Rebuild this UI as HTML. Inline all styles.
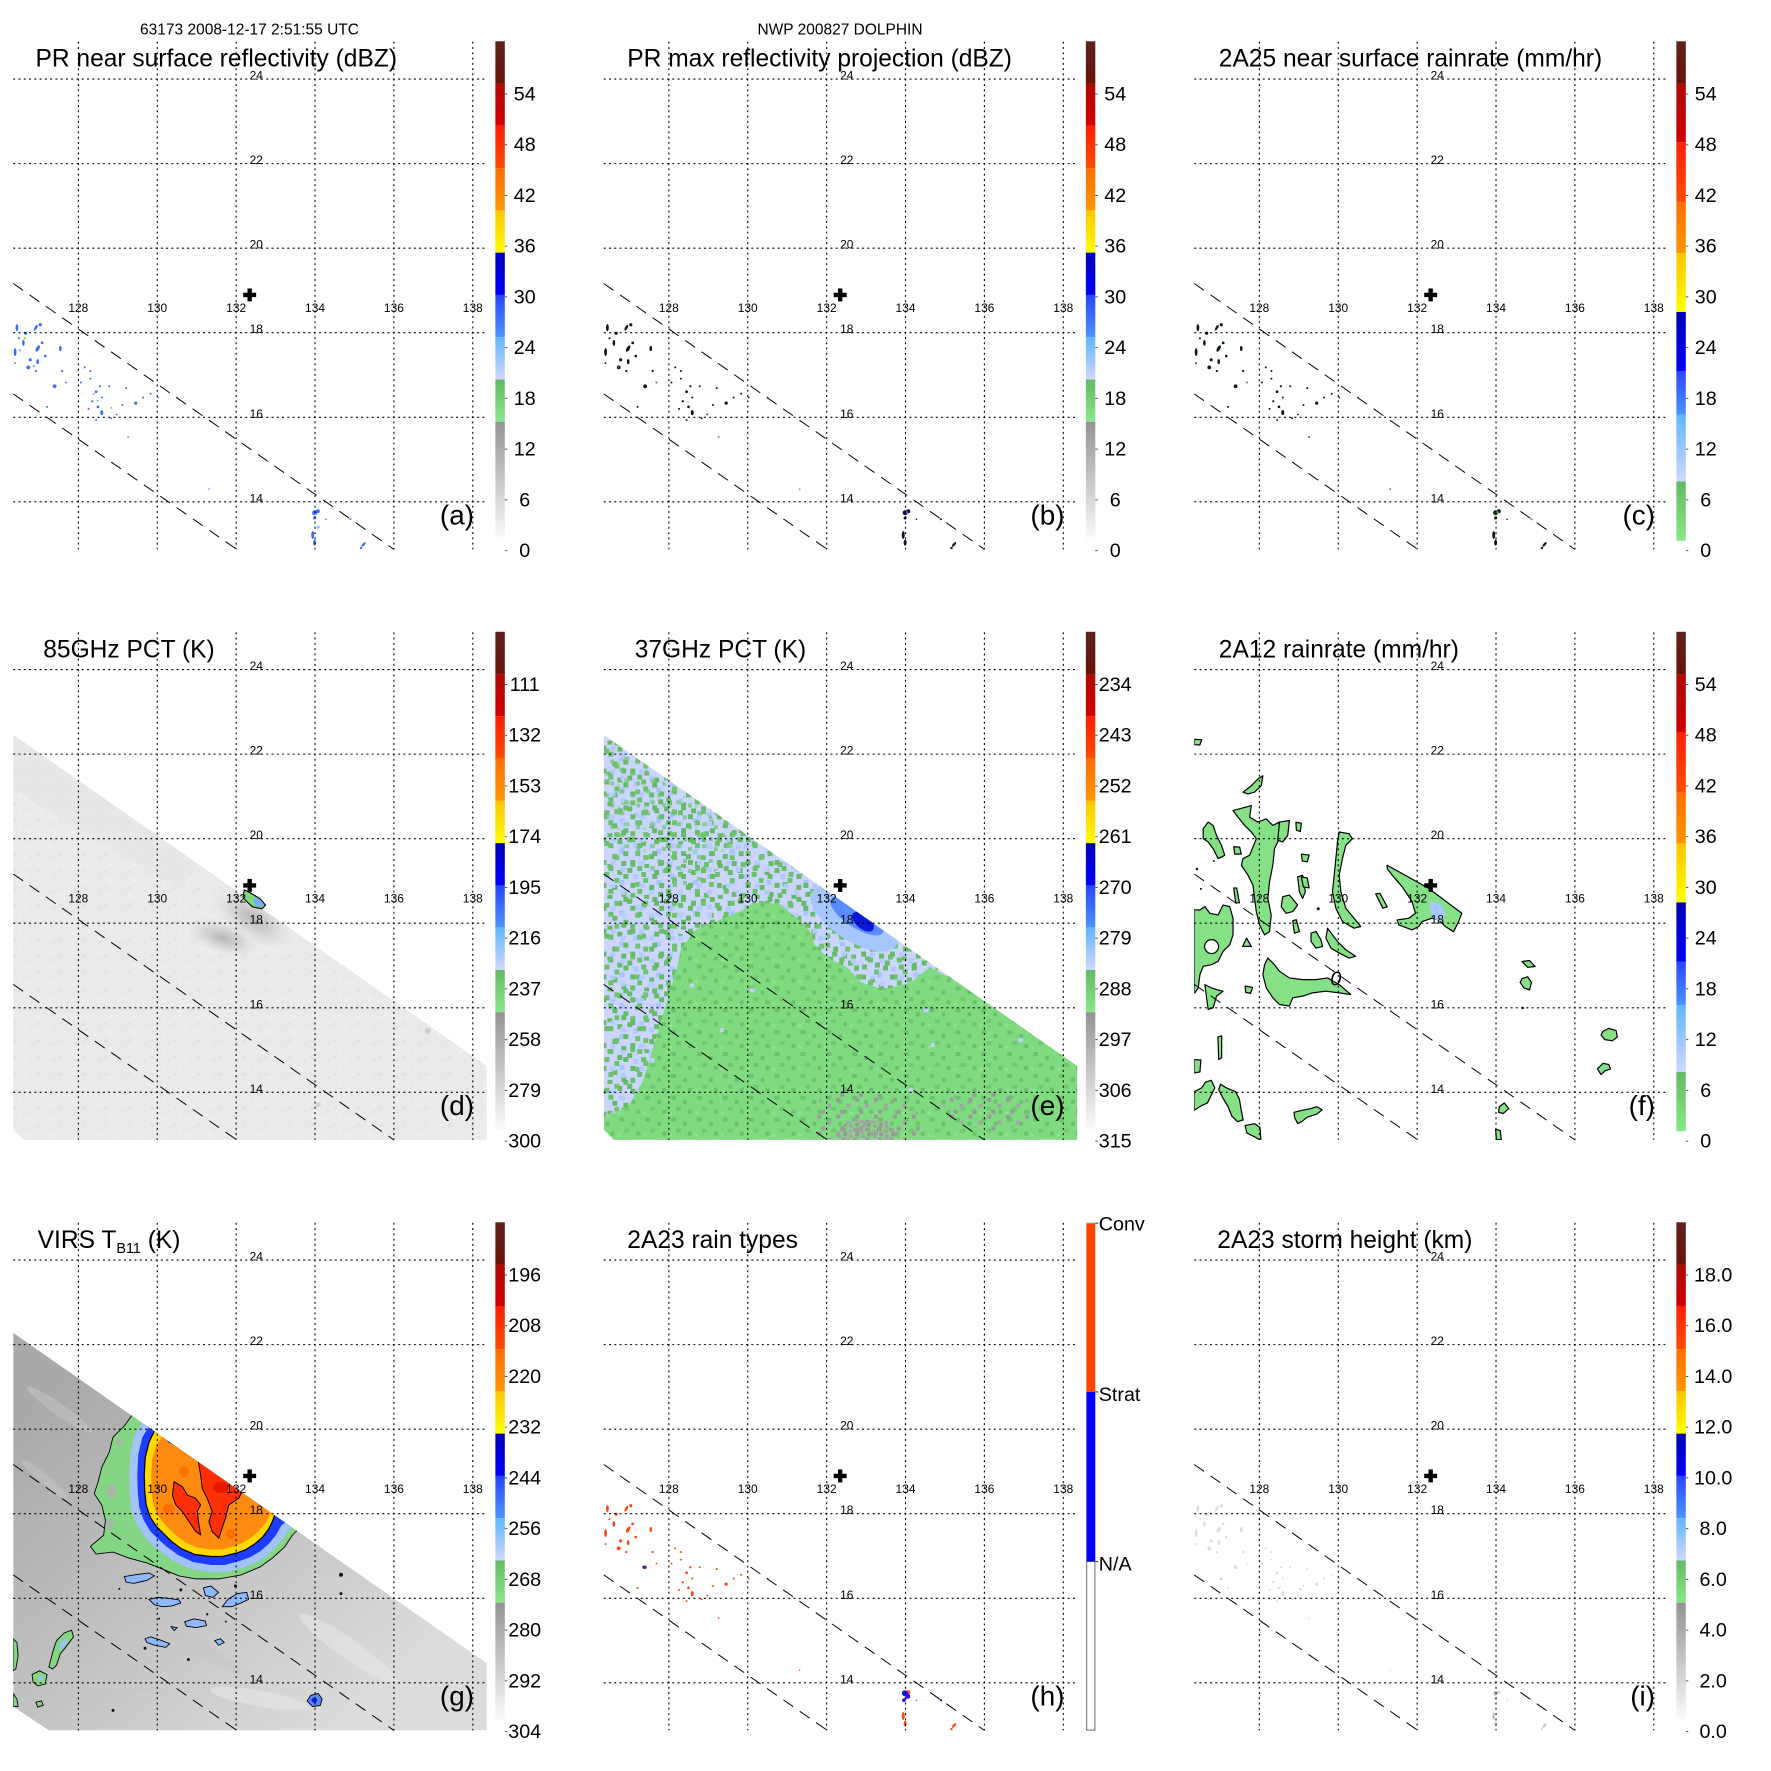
<!DOCTYPE html>
<html><head><meta charset="utf-8"><style>
html,body{margin:0;padding:0;background:#fff}
svg{display:block}
text{font-family:"Liberation Sans",Arial,Helvetica,sans-serif;fill:#000}
.tt{font-size:24.7px}
.sm{font-size:12px}
.cb{font-size:19.8px}
.pl{font-size:28px}
.hd{font-size:15.5px}
</style></head><body>
<svg width="1771" height="1771" viewBox="0 0 1771 1771" xmlns="http://www.w3.org/2000/svg">
<defs>
<clipPath id="mc" clipPathUnits="userSpaceOnUse"><rect x="13.3" y="42" width="476.1" height="510.3"/></clipPath>
<clipPath id="swD" clipPathUnits="userSpaceOnUse"><polygon points="13.3,145 489.4,478 489.4,552.3 23.5,552.3 13.3,542"/></clipPath>
<clipPath id="swG" clipPathUnits="userSpaceOnUse"><polygon points="13.3,152.7 489.4,484.8 489.4,552.3 49.2,552.3 13.3,528.4"/></clipPath>
<linearGradient id="gBr" x1="0" y1="0" x2="0" y2="1"><stop offset="0" stop-color="#5e221d"/><stop offset="1" stop-color="#6a1206"/></linearGradient>
<linearGradient id="gDr" x1="0" y1="0" x2="0" y2="1"><stop offset="0" stop-color="#ac0a00"/><stop offset="1" stop-color="#d30000"/></linearGradient>
<linearGradient id="gRd" x1="0" y1="0" x2="0" y2="1"><stop offset="0" stop-color="#ff1e00"/><stop offset="1" stop-color="#ff4c00"/></linearGradient>
<linearGradient id="gOr" x1="0" y1="0" x2="0" y2="1"><stop offset="0" stop-color="#ff6e00"/><stop offset="1" stop-color="#ff9600"/></linearGradient>
<linearGradient id="gYe" x1="0" y1="0" x2="0" y2="1"><stop offset="0" stop-color="#ffc400"/><stop offset="1" stop-color="#ffff00"/></linearGradient>
<linearGradient id="gBl" x1="0" y1="0" x2="0" y2="1"><stop offset="0" stop-color="#0000b4"/><stop offset="1" stop-color="#0000ff"/></linearGradient>
<linearGradient id="gMb" x1="0" y1="0" x2="0" y2="1"><stop offset="0" stop-color="#2a44ff"/><stop offset="1" stop-color="#4c94ff"/></linearGradient>
<linearGradient id="gLb" x1="0" y1="0" x2="0" y2="1"><stop offset="0" stop-color="#60b6ff"/><stop offset="1" stop-color="#d0d8ff"/></linearGradient>
<linearGradient id="gGn" x1="0" y1="0" x2="0" y2="1"><stop offset="0" stop-color="#66b866"/><stop offset="1" stop-color="#8ae68a"/></linearGradient>
<linearGradient id="gGy" x1="0" y1="0" x2="0" y2="1"><stop offset="0" stop-color="#939393"/><stop offset="1" stop-color="#fcfcfc"/></linearGradient>
<linearGradient id="gV" gradientUnits="userSpaceOnUse" x1="40" y1="220" x2="330" y2="560"><stop offset="0" stop-color="#a9a9a9"/><stop offset="0.45" stop-color="#bfbfbf"/><stop offset="1" stop-color="#dcdcdc"/></linearGradient>
<radialGradient id="rgD"><stop offset="0" stop-color="#adadad" stop-opacity="0.85"/><stop offset="0.5" stop-color="#c6c6c6" stop-opacity="0.55"/><stop offset="1" stop-color="#e9e9e9" stop-opacity="0"/></radialGradient>
<pattern id="pT" width="23" height="17" patternUnits="userSpaceOnUse"><rect x="2" y="3" width="4" height="3" fill="#eeeeee"/><rect x="13" y="9" width="4" height="3" fill="#e3e3e3"/><rect x="18" y="1" width="3" height="3" fill="#efefef"/><rect x="6" y="12" width="4" height="3" fill="#e5e5e5"/></pattern>
<pattern id="pG1" width="37" height="31" patternUnits="userSpaceOnUse">
<rect x="0" y="0" width="5" height="5" fill="#66bb66"/><rect x="14" y="4" width="5" height="5" fill="#6cc06c"/><rect x="27" y="2" width="5" height="5" fill="#66bb66"/><rect x="8" y="14" width="5" height="5" fill="#70c470"/><rect x="22" y="17" width="5" height="5" fill="#66bb66"/><rect x="31" y="24" width="5" height="5" fill="#66bb66"/><rect x="3" y="25" width="5" height="5" fill="#6cc06c"/><rect x="17" y="27" width="5" height="4" fill="#66bb66"/>
<rect x="6" y="6" width="5" height="5" fill="#b0c8ff"/><rect x="29" y="12" width="5" height="5" fill="#aac4ff"/></pattern>
<pattern id="pG2" width="29" height="23" patternUnits="userSpaceOnUse">
<rect x="4" y="9" width="5" height="5" fill="#66bb66"/><rect x="18" y="1" width="5" height="5" fill="#6cc06c"/><rect x="11" y="18" width="5" height="5" fill="#66bb66"/><rect x="24" y="13" width="5" height="5" fill="#70c470"/>
<rect x="20" y="19" width="5" height="4" fill="#b2caff"/><rect x="1" y="2" width="5" height="5" fill="#b6ccff"/></pattern>
<pattern id="pDG" width="26" height="22" patternUnits="userSpaceOnUse"><rect x="3" y="2" width="5" height="4" fill="#6cc26c"/><rect x="15" y="6" width="4" height="4" fill="#6cc26c"/><rect x="8" y="13" width="5" height="4" fill="#72c872"/><rect x="20" y="16" width="4" height="4" fill="#6cc26c"/><rect x="1" y="18" width="3" height="3" fill="#8ee48e"/></pattern>
<pattern id="pGr" width="19" height="17" patternUnits="userSpaceOnUse"><rect x="0" y="0" width="4" height="4" fill="#9a9a9a"/><rect x="10" y="6" width="4" height="4" fill="#a4a4a4"/><rect x="4" y="12" width="4" height="4" fill="#999"/></pattern>
<pattern id="pGr2" width="12" height="10" patternUnits="userSpaceOnUse"><rect x="0" y="0" width="5" height="4" fill="#9c9c9c"/><rect x="6" y="2" width="5" height="4" fill="#a6a6a6"/><rect x="2" y="5" width="4" height="4" fill="#999"/><rect x="8" y="7" width="4" height="3" fill="#a0a0a0"/></pattern>
<g id="grid" fill="none" stroke="#000" stroke-width="1.1" stroke-dasharray="2 3.3">
<path d="M78.8 42V552.3M158.1 42V552.3M237.4 42V552.3M316.7 42V552.3M396 42V552.3M475.3 42V552.3"/>
<path d="M13.3 79.5H489.4M13.3 164.5H489.4M13.3 249.5H489.4M13.3 334.5H489.4M13.3 419.5H489.4M13.3 504.5H489.4"/>
</g>
<g id="swl" fill="none" stroke="#000" stroke-width="1" stroke-dasharray="12 8"><path d="M13.3 285L396 552.3M13.3 396L238 552.3"/></g>
<g id="cross" fill="#000"><rect x="244.5" y="294.3" width="13" height="4.4"/><rect x="248.8" y="290" width="4.4" height="13"/></g>
<g id="cbStd">
<rect x="498" y="41.5" width="9.5" height="42.5" fill="url(#gBr)"/>
<rect x="498" y="84" width="9.5" height="42.5" fill="url(#gDr)"/>
<rect x="498" y="126.5" width="9.5" height="42.5" fill="url(#gRd)"/>
<rect x="498" y="169" width="9.5" height="42.5" fill="url(#gOr)"/>
<rect x="498" y="211.5" width="9.5" height="42.5" fill="url(#gYe)"/>
<rect x="498" y="254" width="9.5" height="42.5" fill="url(#gBl)"/>
<rect x="498" y="296.5" width="9.5" height="42.5" fill="url(#gMb)"/>
<rect x="498" y="339" width="9.5" height="42.5" fill="url(#gLb)"/>
<rect x="498" y="381.5" width="9.5" height="42.5" fill="url(#gGn)"/>
<rect x="498" y="424" width="9.5" height="119" fill="url(#gGy)"/>
<path d="M507.5 94.5h2.5M507.5 145.5h2.5M507.5 196.5h2.5M507.5 247.5h2.5M507.5 298.5h2.5M507.5 349.5h2.5M507.5 400.5h2.5M507.5 451.5h2.5M507.5 502.5h2.5M507.5 553.5h2.5" stroke="#555" stroke-width="1"/>
</g>
<g id="cbCF">
<rect x="498" y="41.5" width="9.5" height="42.5" fill="url(#gBr)"/>
<rect x="498" y="84" width="9.5" height="59" fill="url(#gDr)"/>
<rect x="498" y="143" width="9.5" height="60.4" fill="url(#gRd)"/>
<rect x="498" y="203.4" width="9.5" height="51.1" fill="url(#gOr)"/>
<rect x="498" y="254.5" width="9.5" height="59.1" fill="url(#gYe)"/>
<rect x="498" y="313.6" width="9.5" height="59.4" fill="url(#gBl)"/>
<rect x="498" y="373" width="9.5" height="43.7" fill="url(#gMb)"/>
<rect x="498" y="416.7" width="9.5" height="67.3" fill="url(#gLb)"/>
<rect x="498" y="484" width="9.5" height="59.6" fill="url(#gGn)"/>
<path d="M507.5 94.5h2.5M507.5 145.5h2.5M507.5 196.5h2.5M507.5 247.5h2.5M507.5 298.5h2.5M507.5 349.5h2.5M507.5 400.5h2.5M507.5 451.5h2.5M507.5 502.5h2.5M507.5 553.5h2.5" stroke="#555" stroke-width="1"/>
</g>
<g id="dots">
<ellipse cx="17" cy="329.5" rx="1.4" ry="3.6"/><ellipse cx="15.2" cy="354" rx="1.4" ry="4"/><circle cx="25.8" cy="335" r="1.6"/><ellipse cx="23.5" cy="344.7" rx="1.3" ry="3"/>
<ellipse cx="36" cy="329.5" rx="1.3" ry="3.2" transform="rotate(30 36 329.5)"/><circle cx="40.5" cy="326.5" r="1.6"/><ellipse cx="37.9" cy="350.4" rx="1.6" ry="3.6" transform="rotate(30 37.9 350.4)"/>
<circle cx="42.4" cy="344.7" r="1.4"/><circle cx="30.3" cy="361.7" r="1.6"/><ellipse cx="37.9" cy="363.6" rx="1.3" ry="2.6"/><circle cx="28.4" cy="369.3" r="1.9"/>
<ellipse cx="60.6" cy="350.4" rx="1.3" ry="2.6"/><circle cx="45.5" cy="358" r="1.3"/><circle cx="36" cy="373" r="1.1"/><circle cx="19" cy="340" r="1"/><circle cx="15" cy="365" r="0.9"/>
<circle cx="62.5" cy="373" r="1.1"/><circle cx="66.3" cy="384.5" r="0.9"/><circle cx="54.9" cy="388.3" r="1.9"/><circle cx="85.2" cy="369.3" r="1"/><circle cx="90.9" cy="373" r="1"/>
<circle cx="81.4" cy="384.5" r="1"/><circle cx="90.9" cy="380.7" r="1"/><circle cx="96.6" cy="393.9" r="1.4"/><circle cx="100.4" cy="388.3" r="1.1"/><circle cx="109.8" cy="388.3" r="1"/>
<circle cx="102.3" cy="399.6" r="1"/><circle cx="92.8" cy="403.4" r="1.1"/><circle cx="98.5" cy="409" r="1.3"/><circle cx="89" cy="411" r="1"/><ellipse cx="102.3" cy="414.8" rx="1.5" ry="2.5"/>
<circle cx="111.7" cy="420.5" r="1"/><circle cx="96.6" cy="422.3" r="1"/><circle cx="117.4" cy="416.7" r="0.9"/><circle cx="123.1" cy="407.2" r="1"/><circle cx="126.9" cy="390.2" r="1"/>
<circle cx="136.4" cy="405.3" r="1.6"/><circle cx="143.9" cy="399.6" r="1"/><circle cx="151.5" cy="395.8" r="1"/><circle cx="159.1" cy="399.6" r="0.9"/><circle cx="178" cy="399.6" r="0.8"/>
<circle cx="47.3" cy="409" r="1"/><circle cx="128.8" cy="439.4" r="0.8"/><circle cx="210.2" cy="491.7" r="0.7"/>
<circle cx="316.3" cy="515.5" r="2.5"/><circle cx="319.5" cy="514" r="2"/><circle cx="316.3" cy="520.8" r="1.5"/><ellipse cx="314.4" cy="537.9" rx="1.5" ry="4"/><ellipse cx="316.3" cy="545.5" rx="1.5" ry="3"/>
<circle cx="327.7" cy="522" r="0.8"/><circle cx="352.3" cy="522" r="1"/><ellipse cx="365.5" cy="547.3" rx="1.2" ry="3" transform="rotate(40 365.5 547.3)"/><circle cx="362.9" cy="551" r="1.2"/>
</g>
</defs>

<!-- ===== Headers ===== -->
<text class="hd" x="249.5" y="34.5" text-anchor="middle">63173 2008-12-17 2:51:55 UTC</text>
<text class="hd" x="840" y="34.5" text-anchor="middle">NWP 200827 DOLPHIN</text>

<!-- ===== Panel A ===== -->
<g transform="translate(0,0) scale(0.9947)">
<g clip-path="url(#mc)">
<use href="#dots" fill="#3f6bff"/>
<g fill="#6cc46c"><circle cx="25" cy="340" r="1"/><circle cx="98" cy="403" r="0.9"/><circle cx="112" cy="410" r="0.9"/><circle cx="178" cy="400" r="0.9"/></g>
<g fill="#8ab8ff"><circle cx="20" cy="352" r="1.2"/><circle cx="34" cy="368" r="1.2"/><circle cx="94" cy="396" r="1"/><circle cx="320" cy="530" r="1.5"/></g>
</g>
<use href="#grid"/><use href="#swl"/><use href="#cross"/>
<g class="sm" text-anchor="middle"><text x="78.8" y="313.5">128</text><text x="158.1" y="313.5">130</text><text x="237.4" y="313.5">132</text><text x="316.7" y="313.5">134</text><text x="396" y="313.5">136</text><text x="475.3" y="313.5">138</text></g>
<g class="sm"><text x="251" y="80">24</text><text x="251" y="165">22</text><text x="251" y="250">20</text><text x="251" y="335">18</text><text x="251" y="420">16</text><text x="251" y="505">14</text></g>
<text class="tt" x="35.7" y="67">PR near surface reflectivity (dBZ)</text>
<text class="pl" x="476.5" y="527.5" text-anchor="end">(a)</text>
<use href="#cbStd"/>
<g class="cb" text-anchor="middle"><text x="527.5" y="101">54</text><text x="527.5" y="152">48</text><text x="527.5" y="203">42</text><text x="527.5" y="254">36</text><text x="527.5" y="305">30</text><text x="527.5" y="356">24</text><text x="527.5" y="407">18</text><text x="527.5" y="458">12</text><text x="527.5" y="509">6</text><text x="527.5" y="560">0</text></g>
</g>

<!-- ===== Panel B ===== -->
<g transform="translate(590.5,0) scale(0.9947)">
<g clip-path="url(#mc)">
<use href="#dots" fill="#10102a"/>
<g fill="#3c64ff"><circle cx="318" cy="515" r="1.3"/><circle cx="28.4" cy="369.3" r="0.9"/></g>
<g fill="#78cc78"><circle cx="66" cy="384" r="0.9"/><circle cx="98" cy="404" r="0.9"/><circle cx="118" cy="416" r="0.9"/><circle cx="178" cy="400" r="0.9"/><circle cx="129" cy="439" r="0.9"/><circle cx="210" cy="492" r="0.9"/></g>
</g>
<use href="#grid"/><use href="#swl"/><use href="#cross"/>
<g class="sm" text-anchor="middle"><text x="78.8" y="313.5">128</text><text x="158.1" y="313.5">130</text><text x="237.4" y="313.5">132</text><text x="316.7" y="313.5">134</text><text x="396" y="313.5">136</text><text x="475.3" y="313.5">138</text></g>
<g class="sm"><text x="251" y="80">24</text><text x="251" y="165">22</text><text x="251" y="250">20</text><text x="251" y="335">18</text><text x="251" y="420">16</text><text x="251" y="505">14</text></g>
<text class="tt" x="37" y="67">PR max reflectivity projection (dBZ)</text>
<text class="pl" x="476.5" y="527.5" text-anchor="end">(b)</text>
<use href="#cbStd"/>
<g class="cb" text-anchor="middle"><text x="527.5" y="101">54</text><text x="527.5" y="152">48</text><text x="527.5" y="203">42</text><text x="527.5" y="254">36</text><text x="527.5" y="305">30</text><text x="527.5" y="356">24</text><text x="527.5" y="407">18</text><text x="527.5" y="458">12</text><text x="527.5" y="509">6</text><text x="527.5" y="560">0</text></g>
</g>

<!-- ===== Panel C ===== -->
<g transform="translate(1181,0) scale(0.9947)">
<g clip-path="url(#mc)">
<use href="#dots" fill="#0c1e0c"/>
<g fill="#7ad47a"><circle cx="318" cy="515" r="1.2"/><circle cx="352" cy="522" r="0.9"/><circle cx="66" cy="384" r="0.8"/><circle cx="178" cy="400" r="0.8"/></g>
</g>
<use href="#grid"/><use href="#swl"/><use href="#cross"/>
<g class="sm" text-anchor="middle"><text x="78.8" y="313.5">128</text><text x="158.1" y="313.5">130</text><text x="237.4" y="313.5">132</text><text x="316.7" y="313.5">134</text><text x="396" y="313.5">136</text><text x="475.3" y="313.5">138</text></g>
<g class="sm"><text x="251" y="80">24</text><text x="251" y="165">22</text><text x="251" y="250">20</text><text x="251" y="335">18</text><text x="251" y="420">16</text><text x="251" y="505">14</text></g>
<text class="tt" x="38" y="67">2A25 near surface rainrate (mm/hr)</text>
<text class="pl" x="476.5" y="527.5" text-anchor="end">(c)</text>
<use href="#cbCF"/>
<g class="cb" text-anchor="middle"><text x="527.5" y="101">54</text><text x="527.5" y="152">48</text><text x="527.5" y="203">42</text><text x="527.5" y="254">36</text><text x="527.5" y="305">30</text><text x="527.5" y="356">24</text><text x="527.5" y="407">18</text><text x="527.5" y="458">12</text><text x="527.5" y="509">6</text><text x="527.5" y="560">0</text></g>
</g>

<!-- ===== Panel D ===== -->
<g transform="translate(0,590.5) scale(0.9947)">
<g clip-path="url(#mc)">
<polygon points="13.3,145 489.4,478 489.4,552.3 23.5,552.3 13.3,542" fill="#eaeaea"/>
<polygon points="13.3,145 489.4,478 489.4,552.3 23.5,552.3 13.3,542" fill="url(#pT)"/>
<g clip-path="url(#swD)">
<polygon points="13.3,145 200,276 180,300 13.3,200" fill="#e4e4e4" opacity="0.6"/>
<ellipse cx="254" cy="329" rx="50" ry="24" transform="rotate(34 254 329)" fill="url(#rgD)"/>
<ellipse cx="224" cy="349" rx="40" ry="18" transform="rotate(20 224 349)" fill="url(#rgD)"/>
<circle cx="430" cy="443" r="3" fill="#cfcfcf"/><circle cx="320" cy="517" r="2.5" fill="#d2d2d2"/>
</g>
<polygon points="245.5,301 250,303 261.4,309.8 267,316.3 263.3,320 253.8,318 248,312.5 244.3,308.7" fill="#7ed87e" stroke="#000" stroke-width="1.1"/>
<polygon points="255,308 261.4,310.5 265.5,315.5 262,318.5 256,316" fill="#7aaaff"/>
</g>
<use href="#grid"/><use href="#swl"/><use href="#cross"/>
<g class="sm" text-anchor="middle"><text x="78.8" y="313.5">128</text><text x="158.1" y="313.5">130</text><text x="237.4" y="313.5">132</text><text x="316.7" y="313.5">134</text><text x="396" y="313.5">136</text><text x="475.3" y="313.5">138</text></g>
<g class="sm"><text x="251" y="80">24</text><text x="251" y="165">22</text><text x="251" y="250">20</text><text x="251" y="335">18</text><text x="251" y="420">16</text><text x="251" y="505">14</text></g>
<text class="tt" x="43.5" y="67.5">85GHz PCT (K)</text>
<text class="pl" x="476.5" y="527.5" text-anchor="end">(d)</text>
<use href="#cbStd"/>
<g class="cb" text-anchor="middle"><text x="527.5" y="101">111</text><text x="527.5" y="152">132</text><text x="527.5" y="203">153</text><text x="527.5" y="254">174</text><text x="527.5" y="305">195</text><text x="527.5" y="356">216</text><text x="527.5" y="407">237</text><text x="527.5" y="458">258</text><text x="527.5" y="509">279</text><text x="527.5" y="560">300</text></g>
</g>

<!-- ===== Panel E ===== -->
<g transform="translate(590.5,590.5) scale(0.9947)">
<g clip-path="url(#mc)">
<g clip-path="url(#swD)">
<polygon points="13.3,145 489.4,478 489.4,552.3 23.5,552.3 13.3,542" fill="#cbd5fd"/>
<polygon points="13.3,145 489.4,478 489.4,552.3 23.5,552.3 13.3,542" fill="url(#pG1)"/>
<polygon points="13.3,145 489.4,478 489.4,552.3 23.5,552.3 13.3,542" fill="url(#pG2)"/>
<polygon points="13.3,150 120,225 150,265 100,300 60,280 13.3,240" fill="url(#pDG)" opacity="0.7"/>
<polygon points="369.3,394 341,378.8 322,394 295.5,401.5 272.7,394 257.6,378.8 242.4,371.2 227.3,360 219.7,341 212,333.3 189.4,314.4 163,314.4 151.5,322 125,333.3 106,341 91,360 87.1,378.8 75.8,416.7 64.4,454.5 53,492.4 37.9,519 13.3,530 13.3,552.3 489.4,552.3 489.4,478" fill="#80da80"/>
<polygon points="369.3,394 341,378.8 322,394 295.5,401.5 272.7,394 257.6,378.8 242.4,371.2 227.3,360 219.7,341 212,333.3 189.4,314.4 163,314.4 151.5,322 125,333.3 106,341 91,360 87.1,378.8 75.8,416.7 64.4,454.5 53,492.4 37.9,519 13.3,530 13.3,552.3 489.4,552.3 489.4,478" fill="url(#pDG)"/>
<g fill="#c4d0fb"><rect x="160" y="400" width="5" height="4"/><rect x="130" y="440" width="4" height="4"/><rect x="335" y="420" width="5" height="4"/><rect x="342" y="455" width="4" height="4"/><rect x="320" y="500" width="4" height="4"/><rect x="430" y="450" width="5" height="4"/><rect x="60" y="470" width="4" height="5"/><rect x="45" y="500" width="4" height="4"/><rect x="100" y="395" width="4" height="4"/></g>
<polygon points="222,552.3 230,512 248,503 280,504 312,510 332,528 330,552.3" fill="url(#pGr)"/>
<polygon points="245,552.3 252,538 268,532 290,533 304,540 312,552.3" fill="url(#pGr2)"/>
<polygon points="350,510 405,503 440,512 444,536 400,544 362,532" fill="url(#pGr)"/>
<ellipse cx="265" cy="330" rx="50" ry="22" transform="rotate(33 265 330)" fill="#a6c6ff"/>
<ellipse cx="268" cy="327" rx="31" ry="12" transform="rotate(33 268 327)" fill="#5a8cff"/>
<ellipse cx="274" cy="333" rx="13" ry="7" transform="rotate(40 274 333)" fill="#0a16d8"/>
<ellipse cx="259" cy="312" rx="8" ry="4" transform="rotate(33 259 312)" fill="#1428e0"/>
</g>
</g>
<use href="#grid"/><use href="#swl"/><use href="#cross"/>
<g class="sm" text-anchor="middle"><text x="78.8" y="313.5">128</text><text x="158.1" y="313.5">130</text><text x="237.4" y="313.5">132</text><text x="316.7" y="313.5">134</text><text x="396" y="313.5">136</text><text x="475.3" y="313.5">138</text></g>
<g class="sm"><text x="251" y="80">24</text><text x="251" y="165">22</text><text x="251" y="250">20</text><text x="251" y="335">18</text><text x="251" y="420">16</text><text x="251" y="505">14</text></g>
<text class="tt" x="44.5" y="67.5">37GHz PCT (K)</text>
<text class="pl" x="476.5" y="527.5" text-anchor="end">(e)</text>
<use href="#cbStd"/>
<g class="cb" text-anchor="middle"><text x="527.5" y="101">234</text><text x="527.5" y="152">243</text><text x="527.5" y="203">252</text><text x="527.5" y="254">261</text><text x="527.5" y="305">270</text><text x="527.5" y="356">279</text><text x="527.5" y="407">288</text><text x="527.5" y="458">297</text><text x="527.5" y="509">306</text><text x="527.5" y="560">315</text></g>
</g>

<!-- ===== Panel F ===== -->
<g transform="translate(1181,590.5) scale(0.9947)">
<g clip-path="url(#mc)">
<g fill="#86e086" stroke="#000" stroke-width="1.2" stroke-linejoin="round">
<path fill-rule="evenodd" d="M13.3,321 L19,321.2 24,317.8 29,324.5 37.3,326.2 42.3,316.2 49,317.8 52.3,329.5 52.3,346.2 49,356.2 42.3,362.8 37.3,372.8 30.7,376.2 22.3,377.8 19,386.2 17.3,399.5 14,404.5 13.3,404.5 Z M30.7,351 a7,7 0 1,0 0.1,0 Z"/>
<polygon points="52.3,221.2 70.7,216.2 69,227.8 77.3,232.8 85.7,229.5 92.3,236.2 99,232.8 99,249.5 94,259.5 92.3,276.2 89,292.8 87.3,309.5 90.7,326.2 89,342.8 84,346.2 79,336.2 75.7,322.8 74,309.5 72.3,296.2 67.3,286.2 60.7,276.2 62.3,269.5 69,266.2 75.7,249.5 70.7,242.8 64,236.2 57.3,227.8"/>
<polygon points="99,232.8 109,231.2 107.3,246.2 102.3,252.8 97.3,251.2"/>
<polygon points="62.3,202.8 70.7,196.2 77.3,189.5 82.3,186.2 80.7,196.2 74,202.8 67.3,204.5"/>
<polygon points="22.3,239.5 27.3,232.8 32.3,236.2 35.7,246.2 40.7,256.2 44,266.2 37.3,269.5 32.3,259.5 27.3,252.8 22.3,249.5"/>
<polygon points="159,242.8 169,244.5 172.3,249.5 165.7,256.2 162.3,269.5 159,286.2 160.7,302.8 165.7,319.5 180.7,337.8 174,339.5 162.3,332.8 155.7,319.5 152.3,302.8 154,286.2 155.7,269.5 157.3,252.8"/>
<polygon points="207.3,276.2 249,299.5 282.3,324.5 279,333 274,343 265.7,337.8 259,331 252.3,329.5 242.3,332.8 239,337.8 232.3,341.2 219,336.2 217.3,331.2 229,329.5 235.7,324.5 232.3,312.8 222.3,297.8 212.3,286.2 207.3,279.5"/>
<polygon points="87.3,369.5 94,376.2 99,382.8 109,389.5 122.3,391.2 135.7,391.2 147.3,389.5 159,396.2 170.7,406.2 159,404.5 145.7,402.8 132.3,404.5 122.3,407.8 112.3,409.5 109,417.8 99,416.2 92.3,409.5 85.7,399.5 82.3,386.2 84,376.2"/>
<polygon points="147.3,339.5 152.3,346.2 157.3,352.8 165.7,361.2 175.7,367.8 169,369.5 159,364.5 150.7,359.5 145.7,349.5"/>
<polygon points="130.7,344.5 135.7,342.8 140.7,351.2 142.3,357.8 135.7,359.5 130.7,352.8"/>
<polygon points="102.3,307.8 109,306.2 117.3,316.2 112.3,322.8 105.7,324.5 100.7,317.8"/>
<polygon points="117.3,287.8 122.3,286.2 125,302.8 122.3,309.5 119,302.8"/>
<polygon points="195.7,305 200,304.5 207.3,318 203,319.5"/>
<polygon points="112.3,332 116,331 119,343 114,344.5"/>
<polygon points="62,357.8 66,349.5 70.7,357.8"/>
<polygon points="24,396.2 30.7,399.5 35.7,401.2 42.3,402.8 35.7,407.8 32.3,419.5 27.3,421.2 25.7,409.5"/>
<polygon points="37.1,448.9 40.9,447.7 40.9,469.7 37.9,471.6"/>
<polygon points="13.3,471.6 20,472 19,484 13.3,485"/>
<polygon points="13.3,503.8 20.8,500 24.6,494.3 30.3,492.4 34,500 30.3,507.6 26.5,515.2 18.9,518.9 13.3,522.7"/>
<polygon points="39.8,496.2 45.5,500 54.9,503.8 58.7,511.4 60.6,522.7 62.5,532.2 56.8,534 51.1,528.4 47.3,518.9 41.7,509.5 37.9,501.9"/>
<polygon points="64.4,537.9 73.9,536 79.5,539.8 80.3,553 73.9,549.2 66.3,545.5"/>
<polygon points="113.6,524.6 121.2,522.7 130.7,520.8 136.4,518.9 142,522 136.4,526.5 126.9,529.5 121.2,534 117.4,536 114.4,530.3"/>
<polygon points="342.8,373 350.4,372 356,378 348.5,378.8"/>
<polygon points="342.8,390.2 348.5,388.3 352.3,394 350.4,401.5 344.7,399.6 341,394"/>
<polygon points="424.2,443.2 430,440.2 437.5,442.4 438.6,448.9 433.7,452.7 426.1,451.5 422.3,447"/>
<polygon points="418.6,481 424.2,475.4 430,476.5 431.8,481 426.1,483 422.3,486.7"/>
<polygon points="320,519 325,515.2 329.5,520.8 323.9,525.8 319.3,524.6"/>
<polygon points="316.3,541.7 321,543 322,552 317,552"/>
<polygon points="53,257.6 59,258 60.6,265 54,265"/>
<polygon points="53,299 56,299 58.7,314 55,314"/>
<polygon points="121,265 128.8,266 127,272.7 122,272"/>
<polygon points="121,288 127,289 128.8,299 123,298"/>
<polygon points="115.5,233 121,234 120,242.4 116,241"/>
<polygon points="64.4,397.7 72,399 70,405 65,404"/>
<polygon points="13.3,149.6 20.8,150 19,155.3 13.3,155"/>
</g>
<polygon points="250,312 262,316 266,325 262,333 254,330 250,320" fill="#a8c8ff"/>
<g fill="#000"><circle cx="343.6" cy="419.7" r="1.2"/><circle cx="138" cy="320" r="1.5"/><circle cx="16" cy="280" r="1.2"/><circle cx="20" cy="300" r="1"/><circle cx="33" cy="272" r="1"/></g>
<text x="150" y="397" font-size="20" font-style="italic">0</text>
</g>
<use href="#grid"/><use href="#swl"/><use href="#cross"/>
<g class="sm" text-anchor="middle"><text x="78.8" y="313.5">128</text><text x="158.1" y="313.5">130</text><text x="237.4" y="313.5">132</text><text x="316.7" y="313.5">134</text><text x="396" y="313.5">136</text><text x="475.3" y="313.5">138</text></g>
<g class="sm"><text x="251" y="80">24</text><text x="251" y="165">22</text><text x="251" y="250">20</text><text x="251" y="335">18</text><text x="251" y="420">16</text><text x="251" y="505">14</text></g>
<text class="tt" x="38" y="67.5">2A12 rainrate (mm/hr)</text>
<text class="pl" x="476.5" y="527.5" text-anchor="end">(f)</text>
<use href="#cbCF"/>
<g class="cb" text-anchor="middle"><text x="527.5" y="101">54</text><text x="527.5" y="152">48</text><text x="527.5" y="203">42</text><text x="527.5" y="254">36</text><text x="527.5" y="305">30</text><text x="527.5" y="356">24</text><text x="527.5" y="407">18</text><text x="527.5" y="458">12</text><text x="527.5" y="509">6</text><text x="527.5" y="560">0</text></g>
</g>

<!-- ===== Panel G ===== -->
<g transform="translate(0,1181) scale(0.9947)">
<g clip-path="url(#mc)">
<polygon points="13.3,152.7 489.4,484.8 489.4,552.3 49.2,552.3 13.3,528.4" fill="url(#gV)"/>
<g clip-path="url(#swG)">
<g fill="#c6c6c6" opacity="0.5"><ellipse cx="60" cy="230" rx="40" ry="6" transform="rotate(35 60 230)"/><ellipse cx="45" cy="300" rx="30" ry="5" transform="rotate(40 45 300)"/><ellipse cx="200" cy="470" rx="50" ry="7" transform="rotate(30 200 470)"/><ellipse cx="120" cy="500" rx="40" ry="6" transform="rotate(20 120 500)"/></g>
<g fill="#e6e6e6" opacity="0.6"><ellipse cx="350" cy="470" rx="60" ry="10" transform="rotate(35 350 470)"/><ellipse cx="260" cy="520" rx="50" ry="8" transform="rotate(10 260 520)"/></g>
<polygon points="132.6,235.6 125,246.2 113.6,257.6 109.8,272.7 102.3,287.9 98.5,303 94.7,314.4 102.3,325.8 106,341 104.2,356 90.9,367.4 96.6,375 113.6,373 128.8,378.8 147.7,384 163,390 180,397 197,400 220,400 242.4,396 261.4,388 274,379 286,368 294,356 302,348 320,335 140,225" fill="#84d684" stroke="#000" stroke-width="0.9"/>
<g fill="#b0b0b0" opacity="0.8"><ellipse cx="112" cy="312" rx="5" ry="7"/><ellipse cx="120" cy="262" rx="3" ry="5"/><ellipse cx="110" cy="345" rx="4" ry="6"/></g>
<polygon points="143,243 135,256 131,275 130,295 130.5,314 132,330 137,344 144,356 153,366 163,374 175,382 191,390 211,393 228,393 244,389 257,384 268,377 277,368 285,359 292,350 298,345 310,335 143,232" fill="#a2c2fa"/>
<polygon points="150,246 143,258 139,275 138,295 138.5,313 140,328 144.5,341 151,352 159,360 168,368 179,376 194,383 212,386 226,386 241,382 252,378 262,372 271,364 278,355 283,346 289,342 310,330 150,235" fill="#1e3cff"/>
<polygon points="156,250 150,262 146,278 145,295 145.5,312 147,326 151,338 157,347 164,354 172,362 182,369.5 196,375.5 212,377.5 224,377.3 238,374 247,370.7 256,365 264,358 270,350 274,342 277,333 282,331 300,320 160,235" fill="#ffd800" stroke="#000" stroke-width="1.2"/>
<polygon points="164,255 157,266 153,280 152,296 152.5,312 154,324 157.5,334 163,342 169,349 177,356 186,363 198,368.5 212,370.5 224,370.3 236,367 245,363 253,358 260,352 266,345 270,338 273,333 290,325 170,240" fill="#ff8a10"/>
<polygon points="168.3,262.3 170,255.7 175,252.3 180,254 185,258 192,262 188,268 180,266 171.7,264" fill="#1a2cff"/>
<polygon points="255,319 261.7,315.7 270,319 276.7,325.7 280,332.3 273.3,330.7 266.7,325.7 260,324" fill="#2040ff"/>
<polygon points="198.3,274 206.7,280.7 216.7,287.3 230,297.3 245,309 240,319 230,325.7 226.7,339 223.3,349 220,359 213.3,352.3 210,342.3 213.3,332.3 208.3,319 203.3,309 201.7,295.7 200,285.7" fill="#ff3008" stroke="#000" stroke-width="1"/>
<polygon points="175,302.3 183.3,307.3 188.3,315.7 196.7,319 201.7,325.7 198.3,332.3 200,345.7 201.7,355.7 196.7,352.3 190,342.3 183.3,332.3 176.7,325.7 173.3,315.7" fill="#ff3008" stroke="#000" stroke-width="1"/>
<ellipse cx="222" cy="308" rx="8" ry="6" fill="#e81800"/>
<g fill="#ff6a00" opacity="0.8"><circle cx="185" cy="292" r="5"/><circle cx="170" cy="330" r="6"/><circle cx="232" cy="355" r="5"/></g>
</g>
<g fill="#90b8ff" stroke="#000" stroke-width="0.9">
<polygon points="125,397.7 136.4,395.8 149.6,394 155.3,397 147.7,401.5 134.5,404.5 126.9,403.4"/>
<polygon points="149.6,420.5 159,418.6 170.5,419.7 179.9,421.2 181.8,424.2 172.3,427.3 162.9,428 155.3,426.1"/>
<polygon points="223.5,428 229.2,420.5 238.6,414.8 248.1,413.6 250,420.5 242.4,424.2 233,428"/>
<polygon points="185.6,443.2 195,440.2 206.4,442.4 207.6,447 197,448.9 187.5,447.7"/>
<polygon points="145.8,460.2 151.5,458.3 161,461.4 170.5,465.2 166.7,468.9 155.3,466.7 147.7,464"/>
<polygon points="216,462 221.6,460.2 225.4,464 219.7,466.7"/>
<polygon points="204.5,409 212,407.2 219.7,413.6 214,418.6 206.4,416.7"/>
<polygon points="172,448 178,449 175,452"/>
<polygon points="308.7,522.7 312.5,517 320,515.2 323.9,520.8 322,527.3 314.4,528.4" fill="#5a8aff"/>
</g>
<ellipse cx="316" cy="522" rx="3" ry="2.5" fill="#1020e0"/>
<g fill="#84d684" stroke="#000" stroke-width="0.9">
<polygon points="49.2,488.6 53,473.5 56.8,462.1 64.4,454.5 72,451.5 73.9,458.3 68.2,465.9 60.6,475.4 56.8,486.7 53,490.5"/>
<polygon points="32.2,496.2 39.8,492.4 47.3,496.2 45.5,505.7 37.9,507.6 33.3,503.8"/>
<polygon points="13.3,460.2 17,464 18.2,477.3 15.9,490.5 13.3,492.4"/>
<polygon points="13.3,515.2 17,520.8 18.2,528.4 13.3,528.4"/>
<polygon points="36,524 41.7,522.7 43.5,527 38,529"/>
</g>
<g fill="#9cc0ff"><ellipse cx="63" cy="466" rx="2.5" ry="6" transform="rotate(35 63 466)"/><circle cx="41" cy="500" r="2.5"/></g>
<g fill="#111"><circle cx="113.6" cy="532.2" r="1.5"/><circle cx="189.4" cy="481" r="1.5"/><circle cx="342.8" cy="395.8" r="2"/><circle cx="342.8" cy="414.8" r="1.5"/><circle cx="236.7" cy="407.2" r="1.5"/><circle cx="181.8" cy="411" r="1.5"/><circle cx="208.3" cy="435.6" r="1.2"/><circle cx="227" cy="443" r="1"/><circle cx="145.8" cy="469.7" r="1.5"/><circle cx="120" cy="410" r="1"/><circle cx="160" cy="440" r="1"/></g>
</g>
<use href="#grid"/><use href="#swl"/><use href="#cross"/>
<g class="sm" text-anchor="middle"><text x="78.8" y="313.5">128</text><text x="158.1" y="313.5">130</text><text x="237.4" y="313.5">132</text><text x="316.7" y="313.5">134</text><text x="396" y="313.5">136</text><text x="475.3" y="313.5">138</text></g>
<g class="sm"><text x="251" y="80">24</text><text x="251" y="165">22</text><text x="251" y="250">20</text><text x="251" y="335">18</text><text x="251" y="420">16</text><text x="251" y="505">14</text></g>
<text class="tt" x="37.9" y="67.5">VIRS T<tspan font-size="14.5px" dy="5">B11</tspan><tspan dy="-5"> (K)</tspan></text>
<text class="pl" x="476.5" y="527.5" text-anchor="end">(g)</text>
<use href="#cbStd"/>
<g class="cb" text-anchor="middle"><text x="527.5" y="101">196</text><text x="527.5" y="152">208</text><text x="527.5" y="203">220</text><text x="527.5" y="254">232</text><text x="527.5" y="305">244</text><text x="527.5" y="356">256</text><text x="527.5" y="407">268</text><text x="527.5" y="458">280</text><text x="527.5" y="509">292</text><text x="527.5" y="560">304</text></g>
</g>

<!-- ===== Panel H ===== -->
<g transform="translate(590.5,1181) scale(0.9947)">
<g clip-path="url(#mc)">
<use href="#dots" fill="#ff4612"/>
<g fill="#1414ff"><circle cx="53.8" cy="388.3" r="1.6"/><circle cx="316" cy="515" r="3"/><circle cx="319" cy="518" r="2.5"/><circle cx="315" cy="522" r="1.8"/><circle cx="352.3" cy="522" r="1.2"/></g>
</g>
<use href="#grid"/><use href="#swl"/><use href="#cross"/>
<g class="sm" text-anchor="middle"><text x="78.8" y="313.5">128</text><text x="158.1" y="313.5">130</text><text x="237.4" y="313.5">132</text><text x="316.7" y="313.5">134</text><text x="396" y="313.5">136</text><text x="475.3" y="313.5">138</text></g>
<g class="sm"><text x="251" y="80">24</text><text x="251" y="165">22</text><text x="251" y="250">20</text><text x="251" y="335">18</text><text x="251" y="420">16</text><text x="251" y="505">14</text></g>
<text class="tt" x="37" y="67.5">2A23 rain types</text>
<text class="pl" x="476.5" y="527.5" text-anchor="end">(h)</text>
<rect x="498.5" y="42.4" width="9" height="169.6" fill="#ff4500"/>
<rect x="498.5" y="212" width="9" height="170.6" fill="#0000ff"/>
<rect x="498.9" y="382.6" width="8.2" height="169.4" fill="#fff" stroke="#444" stroke-width="0.8"/>
<path d="M498.5 42.4h9" stroke="#999" stroke-width="1"/>
<path d="M507.5 42.4h3M507.5 212h3M507.5 382.6h3" stroke="#333" stroke-width="1"/>
<g class="cb"><text x="511" y="50">Conv</text><text x="511" y="221">Strat</text><text x="511" y="391.5">N/A</text></g>
</g>

<!-- ===== Panel I ===== -->
<g transform="translate(1181,1181) scale(0.9947)">
<g clip-path="url(#mc)">
<use href="#dots" fill="#dcdcdc"/>
<g fill="#c4c4c4"><circle cx="316" cy="515" r="2"/><ellipse cx="314.4" cy="537.9" rx="1.3" ry="3.5"/><ellipse cx="365.5" cy="547.3" rx="1" ry="2.5" transform="rotate(40 365.5 547.3)"/><circle cx="40" cy="400" r="1.2"/><circle cx="120" cy="410" r="1"/></g>
</g>
<use href="#grid"/><use href="#swl"/><use href="#cross"/>
<g class="sm" text-anchor="middle"><text x="78.8" y="313.5">128</text><text x="158.1" y="313.5">130</text><text x="237.4" y="313.5">132</text><text x="316.7" y="313.5">134</text><text x="396" y="313.5">136</text><text x="475.3" y="313.5">138</text></g>
<g class="sm"><text x="251" y="80">24</text><text x="251" y="165">22</text><text x="251" y="250">20</text><text x="251" y="335">18</text><text x="251" y="420">16</text><text x="251" y="505">14</text></g>
<text class="tt" x="36.5" y="67.5">2A23 storm height (km)</text>
<text class="pl" x="476.5" y="527.5" text-anchor="end">(i)</text>
<use href="#cbStd"/>
<g class="cb" text-anchor="middle"><text x="535" y="101">18.0</text><text x="535" y="152">16.0</text><text x="535" y="203">14.0</text><text x="535" y="254">12.0</text><text x="535" y="305">10.0</text><text x="535" y="356">8.0</text><text x="535" y="407">6.0</text><text x="535" y="458">4.0</text><text x="535" y="509">2.0</text><text x="535" y="560">0.0</text></g>
</g>
</svg>
</body></html>
